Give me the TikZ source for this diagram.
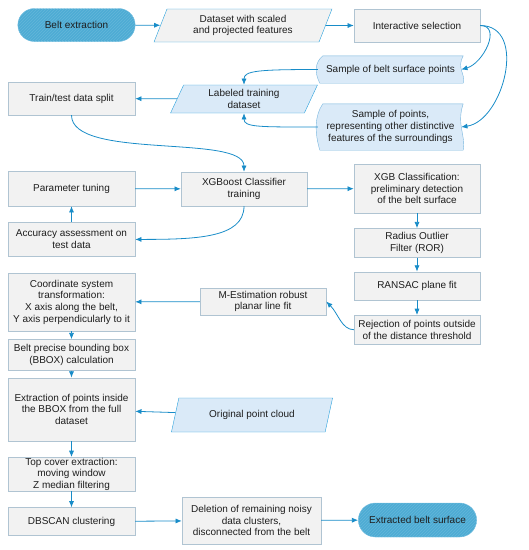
\documentclass[tikz,border=0pt]{standalone}
\usepackage{fontspec}
\setmainfont{Liberation Sans}
\usepackage{xcolor}
\usetikzlibrary{arrows.meta, positioning, shapes.geometric, shapes.misc, shadows, calc, backgrounds, patterns}
\definecolor{flowBlue}{RGB}{24,140,200}
\definecolor{termFill}{RGB}{78,172,212}
\definecolor{termEdge}{RGB}{130,196,228}
\definecolor{boxFill}{RGB}{242,242,242}
\definecolor{boxEdge}{RGB}{176,196,210}
\definecolor{dataEdge}{RGB}{40,160,220}
\definecolor{lightFill}{RGB}{218,234,248}
\definecolor{sampleEdge}{RGB}{120,182,222}
\definecolor{darkText}{RGB}{30,30,30}
\newcommand{\boxfont}{\fontsize{10}{11.7}\selectfont}
% wavy-sided sample shape drawn round a named node
\newcommand{\sampleshape}[1]{%
    \draw[sampleline] ($(#1.north west)+(5pt,0)$) -- (#1.north east)
        .. controls ($(#1.north east)!0.45!(#1.south east)+(-7pt,0)$) and ($(#1.north east)!0.7!(#1.south east)+(3pt,0)$) .. (#1.south east)
        -- ($(#1.south west)+(2pt,0)$)
        .. controls ($(#1.south west)!0.4!(#1.north west)+(-3.5pt,0)$) and ($(#1.south west)!0.75!(#1.north west)+(-3pt,0)$) .. cycle;
}
\tikzset{
    procbox/.style={
        rectangle,
        draw=boxEdge,
        fill=boxFill,
        align=center,
        minimum width=127pt,
        minimum height=33pt,
        inner sep=1.5pt,
        font=\boxfont,
        text=darkText,
        drop shadow={shadow xshift=0.8pt, shadow yshift=-0.8pt, opacity=0.2}
    },
    termbox/.style={
        rounded rectangle,
        draw=termEdge,
        fill=termFill,
        postaction={pattern=north east lines, pattern color=termFill!88!white},
        align=center,
        minimum width=124pt,
        minimum height=33pt,
        font=\boxfont,
        text=darkText
    },
    databox/.style={
        trapezium,
        trapezium left angle=70,
        trapezium right angle=110,
        trapezium stretches=true,
        draw=dataEdge,
        fill=boxFill,
        align=center,
        inner sep=1.5pt,
        font=\boxfont,
        text=darkText
    },
    samplebox/.style={
        rectangle,
        align=center,
        inner sep=1.5pt,
        font=\boxfont,
        text=darkText
    },
    sampleline/.style={draw=sampleEdge, fill=lightFill},
    flowarrow/.style={-{Latex[length=2.2mm, width=1.8mm]}, line width=0.8pt, draw=flowBlue}
}
\begin{document}
\begin{tikzpicture}[x=1pt, y=-1pt]
    \useasboundingbox (0,0) rectangle (529,550);
    % top row
    \node[termbox] (belt) at (76.5,25) {Belt extraction};
    \node[databox, minimum width=178pt, minimum height=33pt] (dset) at (243,25.5) {Dataset with scaled\\and projected features};
    \node[procbox, minimum width=126pt] (inter) at (417,25.5) {Interactive selection};
    % samples and training data
    \node[samplebox, minimum width=145pt, minimum height=27pt] (samp1) at (390.5,69.5) {Sample of belt surface points};
    \node[samplebox, minimum width=145pt, minimum height=46pt] (samp2) at (390.5,127) {Sample of points,\\representing other distinctive\\features of the surroundings};
    \begin{scope}[on background layer]
        \sampleshape{samp1}
        \sampleshape{samp2}
    \end{scope}
    \node[databox, fill=lightFill, minimum width=148pt, minimum height=28pt] (lab) at (244,99) {Labeled training\\dataset};
    \node[procbox] (split) at (71.5,98.5) {Train/test data split};
    % classifier training
    \node[procbox, minimum width=126pt, minimum height=34pt] (xgbt) at (244,189) {XGBoost Classifier\\training};
    \node[procbox, minimum height=35pt] (tune) at (71.5,188.5) {Parameter tuning};
    \node[procbox, minimum height=34pt, below=16pt of tune] (acc) {Accuracy assessment on\\test data};
    % right column
    \node[procbox, minimum width=126pt, minimum height=49pt] (xgbc) at (417,188.5) {XGB Classification:\\preliminary detection\\of the belt surface};
    \node[procbox, minimum width=126pt, minimum height=29pt, below=15pt of xgbc] (ror) {Radius Outlier\\Filter (ROR)};
    \node[procbox, minimum width=126pt, minimum height=28pt, below=14pt of ror] (ransac) {RANSAC plane fit};
    \node[procbox, minimum width=126pt, minimum height=29pt, below=15pt of ransac] (rej) {Rejection of points outside\\of the distance threshold};
    \node[procbox, minimum width=126pt, minimum height=27pt] (mest) at (263,301.5) {M-Estimation robust\\planar line fit};
    % left column
    \node[procbox, minimum height=58pt] (coord) at (71.5,302) {Coordinate system\\transformation:\\X axis along the belt,\\Y axis perpendicularly to it};
    \node[procbox, minimum height=31pt, below=8pt of coord] (bbox) {Belt precise bounding box\\(BBOX) calculation};
    \node[procbox, minimum height=63pt, below=7pt of bbox] (extr) {Extraction of points inside\\the BBOX from the full\\dataset};
    \node[databox, fill=lightFill, minimum width=162pt, minimum height=34pt] (orig) at (252,415) {Original point cloud};
    \node[procbox, minimum height=34pt, inner sep=0.5pt, below=16pt of extr] (topc) {Top cover extraction:\\moving window\\Z median filtering};
    \node[procbox, minimum height=28pt, below=16pt of topc] (dbscan) {DBSCAN clustering};
    \node[procbox, minimum width=139pt, minimum height=47pt] (del) at (251.5,520.5) {Deletion of remaining noisy\\data clusters,\\disconnected from the belt};
    \node[termbox, minimum width=125pt, minimum height=34pt] (outp) at (417.5,520) {Extracted belt surface};
    % connectors
    \draw[flowarrow] (belt) -- (dset);
    \draw[flowarrow] (dset) -- (inter);
    \draw[flowarrow] (inter.east) .. controls +(22,0) and +(22,-6) .. ($(samp1.east)+(-2pt,0)$);
    \draw[flowarrow] (inter.east) .. controls +(48,0) and +(42,-6) .. ($(samp2.east)+(-2pt,0)$);
    \draw[flowarrow] (samp1.west) .. controls +(-60,0) and +(0,-14) .. (lab.north);
    \draw[flowarrow] (samp2.west) .. controls +(-60,0) and +(0,14) .. (lab.south);
    \draw[flowarrow] (lab) -- (split);
    \draw[flowarrow] (split.south) .. controls +(0,45) and +(0,-38) .. (xgbt.north);
    \draw[flowarrow] (tune) -- (xgbt);
    \draw[flowarrow] (xgbt.south) .. controls +(0,32) and +(60,0) .. (acc.east);
    \draw[flowarrow] (acc) -- (tune);
    \draw[flowarrow] (xgbt) -- (xgbc);
    \draw[flowarrow] (xgbc) -- (ror);
    \draw[flowarrow] (ror) -- (ransac);
    \draw[flowarrow] (ransac) -- (rej);
    \draw[flowarrow] (rej.west) .. controls +(-12,0) and +(12,12) .. (mest.east);
    \draw[flowarrow] (mest) -- (coord);
    \draw[flowarrow] (coord) -- (bbox);
    \draw[flowarrow] (bbox) -- (extr);
    \draw[flowarrow] (orig) -- (extr);
    \draw[flowarrow] (extr) -- (topc);
    \draw[flowarrow] (topc) -- (dbscan);
    \draw[flowarrow] (dbscan) -- (del);
    \draw[flowarrow] (del) -- (outp);
\end{tikzpicture}
\end{document}
